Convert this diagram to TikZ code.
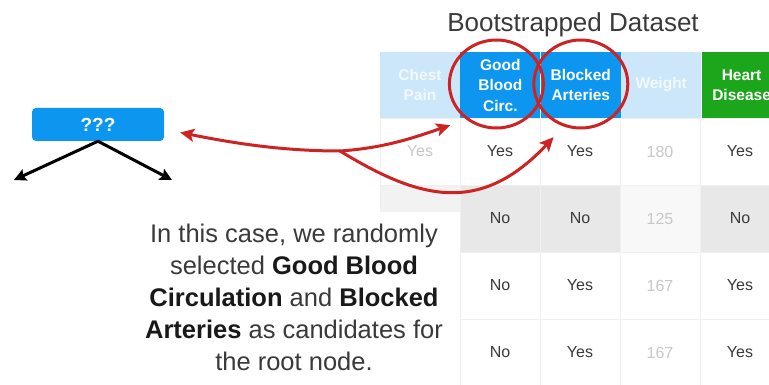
\documentclass[tikz,border=0pt]{standalone}
\usepackage{fontspec}
\setmainfont{Liberation Sans}
\usetikzlibrary{arrows.meta,positioning}

\definecolor{hdrblue}{RGB}{12,150,240}
\definecolor{paleblue}{RGB}{204,230,250}
\definecolor{hdrgreen}{RGB}{28,166,28}
\definecolor{ringred}{RGB}{205,35,35}
\definecolor{inkgray}{RGB}{58,58,58}
\definecolor{fadegray}{RGB}{200,200,200}
\definecolor{rowgray}{RGB}{232,232,232}

\begin{document}
\begin{tikzpicture}[
  x=1pt,y=-1pt,
  hdr/.style={
    minimum width=80pt,
    minimum height=66pt,
    inner sep=0pt,
    align=center,
    text=white,
    font=\fontsize{15.5}{20.5}\selectfont\bfseries
  },
  palehdr/.style={hdr,fill=paleblue,text=paleblue!25},
  cell/.style={
    draw=black!6,
    minimum width=80pt,
    minimum height=67pt,
    inner sep=0pt,
    text=inkgray,
    font=\fontsize{16}{18}\selectfont
  },
  faded/.style={text=fadegray},
  rootbox/.style={
    fill=hdrblue,
    rounded corners=4pt,
    minimum width=132pt,
    minimum height=33pt,
    text=white,
    font=\fontsize{19}{22}\selectfont\bfseries
  },
  ring/.style={draw=ringred,line width=3pt},
  pick/.style={ringred,line width=3pt,-{Stealth[length=14pt,width=13pt,inset=3pt]}},
  split/.style={line width=3pt,-{Stealth[length=12pt,width=12pt,inset=2pt]}}
]
  \useasboundingbox (0,0) rectangle (769,385);
  \clip (0,0) rectangle (769,385);

  \node[font=\fontsize{26}{30}\selectfont,text=inkgray,anchor=base] (title) at (573,32) {Bootstrapped Dataset};

  % header row
  \node[palehdr] (chest) at (420,85) {Chest\\Pain};
  \node[hdr,fill=hdrblue,right=0pt of chest] (good) {Good\\Blood\\Circ.};
  \node[hdr,fill=hdrblue,right=0pt of good] (block) {Blocked\\Arteries};
  \node[palehdr,right=0pt of block] (weight) {Weight};
  \node[hdr,fill=hdrgreen,right=0pt of weight] (heart) {Heart\\Disease};

  % sample rows
  \foreach \r/\y/\tint/\cp/\gb/\ba/\wt/\hd in {
    1/151.5/white/Yes/Yes/Yes/180/Yes,
    2/218.5/rowgray//No/No/125/No,
    3/285.5/white//No/Yes/167/Yes,
    4/352.5/white//No/Yes/167/Yes}{
    \node[cell,fill=\tint!55,faded] (cp\r) at (420,\y) {\cp};
    \node[cell,fill=\tint] (gb\r) at (500,\y) {\gb};
    \node[cell,fill=\tint] (ba\r) at (580,\y) {\ba};
    \node[cell,fill=\tint!30,faded] (wt\r) at (660,\y) {\wt};
    \node[cell,fill=\tint] (hd\r) at (740,\y) {\hd};
  }

  % panel behind the caption
  \fill[white] (129,212) rectangle (459.5,385);
  \node[anchor=north,align=center,inner sep=0pt,text=inkgray,
        font=\fontsize{25.5}{32}\selectfont] (caption) at (294,224)
    {In this case, we randomly\\
     selected \textcolor{black!90}{\bfseries Good Blood}\\
     \textcolor{black!90}{\bfseries Circulation} and \textcolor{black!90}{\bfseries Blocked}\\
     \textcolor{black!90}{\bfseries Arteries} as candidates for\\
     the root node.};

  % tree stub
  \node[rootbox] (root) at (98,124.5) {???};
  \coordinate (leftkid) at (14,180);
  \coordinate (rightkid) at (172,180);
  \draw[split] (root.south) -- (leftkid);
  \draw[split] (root.south) -- (rightkid);

  % candidates
  \draw[ring] ([xshift=-4pt,yshift=1pt]good.center) ellipse [x radius=47,y radius=44];
  \draw[ring] ([yshift=1pt]block.center) ellipse [x radius=47,y radius=44];

  \coordinate (fork) at (340,151);
  \draw[pick] (fork) .. controls +(-60,0) and +(50,10) .. ([xshift=16pt,yshift=-8pt]root.east);
  \draw[pick] (fork) .. controls +(45,-3) and +(-35,12) .. ([xshift=-10pt,yshift=-7pt]good.south west);
  \draw[pick] (fork) .. controls +(80,49) and +(-73,78) .. ([xshift=13pt,yshift=-19pt]block.south west);
\end{tikzpicture}
\end{document}
